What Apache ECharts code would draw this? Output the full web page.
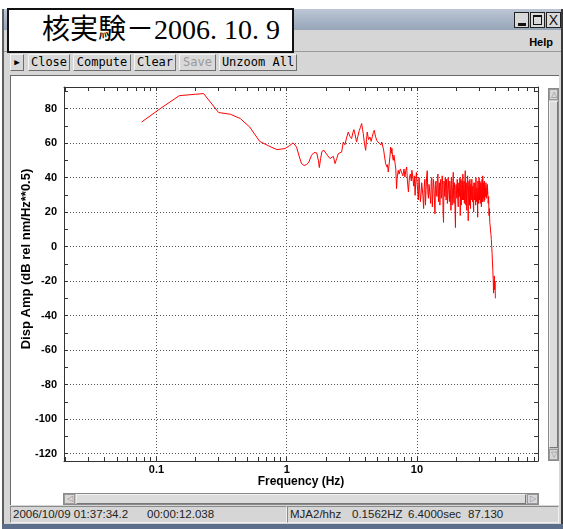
<!DOCTYPE html>
<html>
<head>
<meta charset="utf-8">
<script src="https://cdn.jsdelivr.net/npm/echarts@6/dist/echarts.min.js"></script>
<style>
  html, body { margin:0; padding:0; width:563px; height:529px; overflow:hidden; background:#fff; }
  .abs { position:absolute; box-sizing:border-box; }
  .btn { position:absolute; top:54px; height:17px; box-sizing:border-box; background:#d9d9d9;
         border-top:1px solid #f4f4f4; border-left:1px solid #f4f4f4; border-right:1px solid #6e6e6e; border-bottom:1px solid #6e6e6e;
         font-family:"DejaVu Sans Mono", monospace; font-size:12px; line-height:15px; color:#000; text-align:center; }
  .stat { position:absolute; top:507px; font-family:"Liberation Sans", Arial, sans-serif; font-size:11.5px; line-height:15px; color:#222; white-space:pre; }
  .wbtn { position:absolute; top:12px; width:15px; height:16px; box-sizing:border-box; background:#d9d9d9; border:1px solid #222; }
</style>
</head>
<body>
<!-- window frame -->
<div class="abs" style="left:2px;top:9px;width:561px;height:520px;background:#d6d6d6;border-left:2px solid #5e5e5e;border-right:2px solid #3a3a3a;"></div>
<div class="abs" style="left:4px;top:9px;width:557px;height:21px;background:linear-gradient(#bcc6d6,#97a5b9);"></div>
<div class="wbtn" style="left:514px;"><div class="abs" style="left:3px;top:10px;width:8px;height:3px;background:#111;"></div></div>
<div class="wbtn" style="left:530px;"><div class="abs" style="left:2px;top:2px;width:9px;height:10px;border:1px solid #111;border-top-width:2px;"></div></div>
<div class="wbtn" style="left:546px;font-family:'Liberation Sans',sans-serif;font-size:14px;line-height:14px;text-align:center;color:#111;">X</div>
<div class="abs" style="right:10px;top:36px;font-family:'Liberation Sans',Arial,sans-serif;font-weight:bold;font-size:11px;color:#000;">Help</div>
<div class="abs" style="left:4px;top:51px;width:557px;height:1px;background:#9a9a9a;"></div>
<!-- title box -->
<div class="abs" style="left:7px;top:8px;width:287px;height:45px;background:#fff;border:2px solid #111;"></div>
<div class="abs" style="left:42px;top:9px;font-family:'Liberation Serif','Noto Sans CJK JP',serif;font-size:28px;line-height:41px;color:#000;white-space:pre;">核実験－2006. 10. 9</div>
<!-- toolbar -->
<div class="btn" style="left:10px;width:14px;font-size:9px;line-height:14px;">&#9654;</div>
<div class="btn" style="left:28px;width:42px;">Close</div>
<div class="btn" style="left:73px;width:58px;">Compute</div>
<div class="btn" style="left:134px;width:42px;">Clear</div>
<div class="btn" style="left:179px;width:37px;color:#9a9a9a;">Save</div>
<div class="btn" style="left:219px;width:78px;">Unzoom All</div>
<!-- plot panel -->
<div class="abs" style="left:10px;top:75px;width:549px;height:430px;background:#fff;border-top:1px solid #6a6a6a;border-left:1px solid #6a6a6a;"></div>
<!-- vertical scrollbar -->
<div class="abs" style="left:548px;top:88px;width:11px;height:373px;background:#c8c8c8;border:1px solid #8a8a8a;"></div>
<div class="abs" style="left:549px;top:89px;width:9px;height:11px;background:#d8d8d8;border:1px solid #999;font-size:8px;line-height:9px;text-align:center;color:#888;">&#9651;</div>
<div class="abs" style="left:549px;top:101px;width:9px;height:347px;background:#dcdcdc;border-right:1px solid #777;border-bottom:1px solid #777;border-left:1px solid #f0f0f0;border-top:1px solid #f0f0f0;"></div>
<div class="abs" style="left:549px;top:449px;width:9px;height:11px;background:#d8d8d8;border:1px solid #999;font-size:8px;line-height:9px;text-align:center;color:#888;">&#9661;</div>
<!-- horizontal scrollbar -->
<div class="abs" style="left:63px;top:493px;width:476px;height:12px;background:#c8c8c8;border:1px solid #8a8a8a;"></div>
<div class="abs" style="left:64px;top:494px;width:11px;height:10px;background:#d8d8d8;border:1px solid #999;font-size:8px;line-height:8px;text-align:center;color:#888;">&#9665;</div>
<div class="abs" style="left:76px;top:494px;width:450px;height:10px;background:#dcdcdc;border-right:1px solid #777;border-bottom:1px solid #777;border-left:1px solid #f0f0f0;border-top:1px solid #f0f0f0;"></div>
<div class="abs" style="left:527px;top:494px;width:11px;height:10px;background:#d8d8d8;border:1px solid #999;font-size:8px;line-height:8px;text-align:center;color:#888;">&#9655;</div>
<!-- status bar -->
<div class="abs" style="left:10px;top:506px;width:277px;height:17px;background:#d6d6d6;border:1px solid #8a8a8a;border-right-color:#f0f0f0;border-bottom-color:#f0f0f0;"></div>
<div class="abs" style="left:287px;top:506px;width:272px;height:17px;background:#d6d6d6;border:1px solid #8a8a8a;border-right-color:#f0f0f0;border-bottom-color:#f0f0f0;"></div>
<div class="stat" style="left:13px;">2006/10/09 01:37:34.2</div>
<div class="stat" style="left:147px;">00:00:12.038</div>
<div class="stat" style="left:290px;">MJA2/hhz</div>
<div class="stat" style="left:352px;">0.1562HZ</div>
<div class="stat" style="left:408px;">6.4000sec</div>
<div class="stat" style="left:468px;">87.130</div>
<div class="abs" style="left:2px;top:524px;width:561px;height:5px;background:#5d6d8c;"></div>

<div id="chart" class="abs" style="left:0;top:0;width:563px;height:529px;"></div>
<script>
// ---- data ----
const freqHz = [
  0.077, 0.107, 0.15, 0.2, 0.23, 0.3, 0.37, 0.44, 0.52, 0.62, 0.72, 0.84, 0.97, 1.05, 1.12,
  1.19, 1.25, 1.3, 1.36, 1.42, 1.48, 1.55, 1.62, 1.7, 1.75, 1.78, 1.82, 1.86, 1.92, 1.97,
  2.05, 2.15, 2.22, 2.28, 2.35, 2.42, 2.49, 2.56, 2.64, 2.72, 2.8, 2.88, 2.97, 3.05, 3.15,
  3.22, 3.28, 3.35, 3.44, 3.52, 3.61, 3.68, 3.76, 3.82, 3.87, 3.95, 4.04, 4.1, 4.15, 4.25,
  4.36, 4.45, 4.55, 4.62, 4.7, 4.8, 4.91, 5.0, 5.1, 5.2, 5.3, 5.36, 5.45,
  5.55, 5.62, 5.68, 5.75, 5.85, 5.9, 5.95, 6.02, 6.1, 6.2, 6.28, 6.35, 6.42, 6.5, 6.58,
  6.66, 6.77, 6.88, 6.97, 7.05, 7.18, 7.3, 7.45, 7.63, 7.8, 7.95, 8.09, 8.2, 8.34, 8.45,
  8.6, 8.75, 8.9, 9.05, 9.14, 9.3, 9.45, 9.55, 9.68, 9.8, 9.9,
  10, 10.125, 10.25, 10.375, 10.5, 10.625, 10.75, 10.875, 11, 11.125, 11.25, 11.375, 11.5, 11.625, 11.75, 11.875, 12, 12.125, 12.25, 12.375,
  12.5, 12.625, 12.75, 12.875, 13, 13.125, 13.25, 13.375, 13.5, 13.625, 13.75, 13.875, 14, 14.125, 14.25, 14.375, 14.5, 14.625, 14.75, 14.875,
  15, 15.125, 15.25, 15.375, 15.5, 15.625, 15.75, 15.875, 16, 16.125, 16.25, 16.375, 16.5, 16.625, 16.75, 16.875, 17, 17.125, 17.25, 17.375,
  17.5, 17.625, 17.75, 17.875, 18, 18.125, 18.25, 18.375, 18.5, 18.625, 18.75, 18.875, 19, 19.125, 19.25, 19.375, 19.5, 19.625, 19.75, 19.875,
  20, 20.125, 20.25, 20.375, 20.5, 20.625, 20.75, 20.875, 21, 21.125, 21.25, 21.375, 21.5, 21.625, 21.75, 21.875, 22, 22.125, 22.25, 22.375,
  22.5, 22.625, 22.75, 22.875, 23, 23.125, 23.25, 23.375, 23.5, 23.625, 23.75, 23.875, 24, 24.125, 24.25, 24.375, 24.5, 24.625, 24.75, 24.875,
  25, 25.125, 25.25, 25.375, 25.5, 25.625, 25.75, 25.875, 26, 26.125, 26.25, 26.375, 26.5, 26.625, 26.75, 26.875, 27, 27.125, 27.25, 27.375,
  27.5, 27.625, 27.75, 27.875, 28, 28.125, 28.25, 28.375, 28.5, 28.625, 28.75, 28.875, 29, 29.125, 29.25, 29.375, 29.5, 29.625, 29.75, 29.875,
  30, 30.125, 30.25, 30.375, 30.5, 30.625, 30.75, 30.875, 31, 31.125, 31.25, 31.375, 31.5, 31.625, 31.75, 31.875, 32, 32.125, 32.25, 32.375,
  32.5, 32.625, 32.75, 32.875, 33, 33.125, 33.25, 33.375, 33.5, 33.625, 33.75, 33.875, 34, 34.125, 34.25, 34.375, 34.5, 34.625, 34.75, 34.875,
  35, 35.25, 35.5, 35.75, 36, 36.25, 36.5, 36.75, 37, 37.25,
  37.5, 37.75, 38, 38.25, 38.5, 38.75, 39, 39.25, 39.5, 39.75, 40
];
const dispAmp = [
  72.2, 80, 87.5, 88.3, 88.7, 77.7, 76.7, 74.2, 69.3, 61, 58.5, 56.2, 56.8, 58.5, 60.1,
  57.7, 52, 48.1, 47, 47.5, 49, 52.9, 54.5, 54.3, 50, 45.8, 51, 54.8, 56, 55.8,
  53, 51, 52, 52.3, 48.1, 51, 53.9, 54, 54.8, 60.6, 59, 63, 66.4, 64, 62.6,
  66, 67.8, 65, 60.6, 64, 67.4, 69, 71.3, 68, 65.5, 60, 55.8, 62, 66.4, 62,
  63.5, 61, 64, 66, 67.4, 64, 61.6, 62.5, 60, 60.6, 59, 60.6, 61.6,
  56, 53, 52.9, 48, 47.1, 46, 47.5, 43.2, 47, 52, 57.7, 54, 57, 52, 50,
  53, 52.9, 45, 33.6, 40, 44.2, 42, 45, 44.2, 41, 45, 40.3, 44, 46.1, 38,
  31.7, 40, 42, 38, 44.2, 40, 35, 41, 29.7, 38, 43,
  38, 33, 27, 40, 41, 26, 30, 37, 36, 29, 22, 35, 39, 24, 33, 41, 44, 31, 28, 36,
  37, 29, 25, 38, 40, 23, 31, 39, 35, 27, 19, 36, 38, 31, 29, 40, 42, 26, 33, 37,
  24, 35, 39, 28, 30, 41, 36, 20, 14, 38, 34, 29, 40, 33, 27, 39, 37, 25, 31, 40,
  41, 30, 26, 38, 35, 27, 21, 40, 38, 24, 30, 36, 43, 29, 25, 37, 33, 19, 11, 34,
  36, 31, 28, 39, 40, 26, 23, 35, 37, 29, 32, 40, 18, 33, 39, 24, 29, 38, 35, 27,
  42, 32, 27, 36, 38, 25, 33, 40, 44, 29, 24, 37, 36, 21, 30, 39, 41, 28, 15, 34,
  35, 38, 29, 24, 39, 33, 22, 36, 37, 27, 31, 39, 40, 30, 26, 35, 34, 23, 20, 37,
  38, 27, 30, 37, 36, 31, 24, 40, 39, 26, 28, 34, 35, 30, 17, 38, 37, 25, 32, 36,
  40, 31, 27, 38, 36, 25, 31, 37, 38, 29, 23, 35, 35, 39, 29, 26, 41, 34, 33, 28,
  37, 32, 26, 38, 39, 27, 30, 35, 36, 29, 34, 37, 38, 31, 28, 34, 35, 30, 36, 33,
  31, 25, 29, 18, 22, 14, 12, 9, 7, 4,
  0, -4, -9, -14, -19, -27, -22, -17, -25, -20, -30
];
const xLabelValues = [0.1, 1, 10];
const xTickValues = [0.02, 0.03, 0.04, 0.05, 0.06, 0.07, 0.08, 0.09, 0.1,
  0.2, 0.3, 0.4, 0.5, 0.6, 0.7, 0.8, 0.9, 1,
  2, 3, 4, 5, 6, 7, 8, 9, 10,
  20, 30, 40, 50, 60, 70, 80];
const yLabelValues = [-120, -100, -80, -60, -40, -20, 0, 20, 40, 60, 80];
const yTickValues = [-120, -110, -100, -90, -80, -70, -60, -50, -40, -30, -20, -10, 0,
  10, 20, 30, 40, 50, 60, 70, 80, 90];

const X_MIN = 0.0195, X_MAX = 85, Y_MIN = -124.3, Y_MAX = 92.5;
const axisColor = '#333';
const labelFont = { fontFamily: 'Liberation Sans', fontWeight: 'bold', fontSize: 11, color: '#000' };
const gridDots = { show: true, lineStyle: { color: '#555', width: 1, type: [1, 2] } };
const fmt = v => String(+Number(v).toPrecision(6));

function tickOnlyX(position, showLine) {
  return {
    type: 'log', logBase: 10, min: X_MIN, max: X_MAX, position: position,
    axisLine: { show: showLine, onZero: false, lineStyle: { color: axisColor, width: 1 } },
    axisTick: { show: true, inside: true, length: 4, customValues: xTickValues, lineStyle: { color: axisColor } },
    axisLabel: { show: false }, splitLine: { show: false }
  };
}
function tickOnlyY(position, showLine) {
  return {
    type: 'value', min: Y_MIN, max: Y_MAX, position: position,
    axisLine: { show: showLine, onZero: false, lineStyle: { color: axisColor, width: 1 } },
    axisTick: { show: true, inside: true, length: 4, customValues: yTickValues, lineStyle: { color: axisColor } },
    axisLabel: { show: false }, splitLine: { show: false }
  };
}

const chart = echarts.init(document.getElementById('chart'), null, { renderer: 'canvas' });
chart.setOption({
  animation: false,
  backgroundColor: 'transparent',
  grid: { left: 64, right: 25, top: 87, bottom: 68, show: false },
  xAxis: [{
    type: 'log', logBase: 10, min: X_MIN, max: X_MAX, position: 'bottom',
    name: 'Frequency (Hz)', nameLocation: 'middle', nameGap: 15, nameMoveOverlap: false,
    nameTextStyle: Object.assign({}, labelFont, { fontSize: 12 }),
    axisLine: { show: true, onZero: false, lineStyle: { color: axisColor, width: 1 } },
    axisTick: { show: true, inside: true, length: 4, customValues: xLabelValues, lineStyle: { color: axisColor } },
    axisLabel: Object.assign({ customValues: xLabelValues, margin: 3, formatter: fmt }, labelFont),
    splitLine: gridDots
  }, tickOnlyX('top', true), tickOnlyX('bottom', false)],
  yAxis: [{
    type: 'value', min: Y_MIN, max: Y_MAX, position: 'left',
    name: 'Disp Amp (dB rel nm/Hz**0.5)', nameLocation: 'middle', nameGap: 31, nameMoveOverlap: false,
    nameTextStyle: Object.assign({ padding: [0, 0, 0, 30] }, labelFont, { fontSize: 13 }),
    axisLine: { show: true, onZero: false, lineStyle: { color: axisColor, width: 1 } },
    axisTick: { show: true, inside: true, length: 4, customValues: yLabelValues, lineStyle: { color: axisColor } },
    axisLabel: Object.assign({ customValues: yLabelValues, margin: 7 }, labelFont),
    splitLine: gridDots
  }, tickOnlyY('right', true), tickOnlyY('left', false)],
  series: [{
    type: 'line', xAxisIndex: 0, yAxisIndex: 0,
    data: freqHz.map((f, i) => [f, dispAmp[i]]),
    symbol: 'none', showSymbol: false,
    lineStyle: { color: '#ff0000', width: 1 },
    itemStyle: { color: '#ff0000' }
  }]
});
</script>
</body>
</html>
